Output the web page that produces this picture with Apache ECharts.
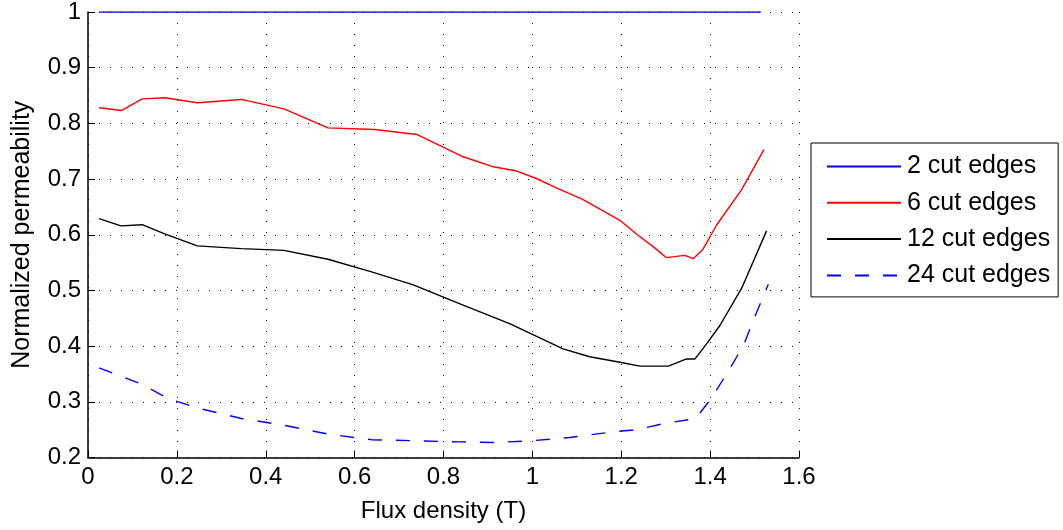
<!DOCTYPE html>
<html>
<head>
<meta charset="utf-8">
<script src="https://cdn.jsdelivr.net/npm/echarts@6/dist/echarts.min.js"></script>
<style>html,body{margin:0;padding:0;background:#fff;}#c{width:1063px;height:530px;}</style>
</head>
<body>
<div id="c"></div>
<script>
var seriesNames = ['2 cut edges', '6 cut edges', '12 cut edges', '24 cut edges'];

var x2 = [0.025, 1.514];
var y2 = [1, 1];

var x6 = [0.025,0.075,0.122,0.173,0.246,0.345,0.441,0.540,0.645,0.741,0.841,0.912,0.962,1.009,1.054,1.112,1.197,1.235,1.276,1.301,1.343,1.362,1.383,1.415,1.471,1.521];
var y6 = [0.828,0.823,0.844,0.846,0.837,0.843,0.826,0.792,0.789,0.780,0.741,0.722,0.715,0.701,0.684,0.664,0.626,0.601,0.576,0.559,0.563,0.557,0.573,0.618,0.681,0.753];

var x12 = [0.025,0.074,0.122,0.171,0.246,0.345,0.441,0.540,0.640,0.732,0.840,0.950,1.069,1.129,1.197,1.242,1.306,1.347,1.366,1.392,1.422,1.471,1.527];
var y12 = [0.629,0.616,0.618,0.602,0.580,0.575,0.572,0.556,0.533,0.510,0.475,0.440,0.395,0.381,0.371,0.364,0.364,0.377,0.377,0.404,0.437,0.504,0.607];

var x24 = [0.025,0.120,0.180,0.246,0.345,0.441,0.540,0.638,0.739,0.837,0.919,0.998,1.084,1.182,1.235,1.302,1.362,1.377,1.400,1.437,1.475,1.497,1.531];
var y24 = [0.361,0.332,0.306,0.289,0.270,0.258,0.242,0.232,0.230,0.228,0.227,0.230,0.236,0.246,0.250,0.262,0.269,0.280,0.303,0.350,0.401,0.446,0.511];

var xTicks = {min: 0, max: 1.6, interval: 0.2};
var yTicks = {min: 0.2, max: 1, interval: 0.1};

function pairs(xs, ys) { return xs.map(function (x, i) { return [x, ys[i]]; }); }

var FONT = '"Liberation Sans", Arial, Helvetica, sans-serif';
var gridLine = {show: true, lineStyle: {color: '#111', width: 1, type: [1, 10]}};

var chart = echarts.init(document.getElementById('c'), null, {renderer: 'canvas'});
chart.setOption({
  animation: false,
  backgroundColor: '#fff',
  grid: {left: 88, right: 264, top: 9.5, bottom: 72.5, containLabel: false},
  xAxis: {
    type: 'value', min: xTicks.min, max: xTicks.max, interval: xTicks.interval,
    name: 'Flux density (T)', nameLocation: 'middle', nameGap: 42,
    nameTextStyle: {fontFamily: FONT, fontSize: 24, color: '#000'},
    axisLine: {show: true, onZero: false, lineStyle: {color: '#000', width: 1.5}},
    axisTick: {show: true, inside: true, length: 7, lineStyle: {color: '#000', width: 1}},
    axisLabel: {fontFamily: FONT, fontSize: 24, color: '#000', margin: 8,
      formatter: function (v) { return String(+v.toFixed(1)); }},
    splitLine: gridLine
  },
  yAxis: {
    type: 'value', min: yTicks.min, max: yTicks.max, interval: yTicks.interval,
    name: 'Normalized permeability', nameLocation: 'middle', nameGap: 53,
    nameTextStyle: {fontFamily: FONT, fontSize: 25, color: '#000'},
    axisLine: {show: true, onZero: false, lineStyle: {color: '#000', width: 1.5}},
    axisTick: {show: true, inside: true, length: 7, lineStyle: {color: '#000', width: 1}},
    axisLabel: {fontFamily: FONT, fontSize: 24, color: '#000', margin: 7,
      formatter: function (v) { return String(+v.toFixed(1)); }},
    splitLine: gridLine
  },
  legend: {
    orient: 'vertical', left: 811, top: 143,
    backgroundColor: '#fff', borderColor: '#000', borderWidth: 1, borderRadius: 0,
    padding: [11, 8, 9, 15],
    itemWidth: 74, itemHeight: 14, itemGap: 11.3,
    itemStyle: {opacity: 0},
    textStyle: {fontFamily: FONT, fontSize: 25, color: '#000', lineHeight: 24, padding: [0, 0, 0, 1]},
    data: seriesNames
  },
  series: [
    {name: seriesNames[0], type: 'line', data: pairs(x2, y2), symbol: 'none',
     lineStyle: {color: '#0000ff', width: 1.4}, itemStyle: {color: '#0000ff'}},
    {name: seriesNames[1], type: 'line', data: pairs(x6, y6), symbol: 'none',
     lineStyle: {color: '#ff0000', width: 1.4}, itemStyle: {color: '#ff0000'}},
    {name: seriesNames[2], type: 'line', data: pairs(x12, y12), symbol: 'none',
     lineStyle: {color: '#000000', width: 1.4}, itemStyle: {color: '#000000'}},
    {name: seriesNames[3], type: 'line', data: pairs(x24, y24), symbol: 'none',
     lineStyle: {color: '#0000ff', width: 1.4, type: [14, 14]}, itemStyle: {color: '#0000ff'}}
  ]
});
</script>
</body>
</html>
